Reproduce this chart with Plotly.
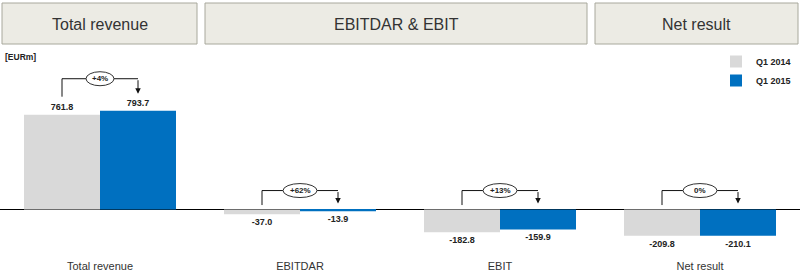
import plotly.graph_objects as go

categories = ["Total revenue", "EBITDAR", "EBIT", "Net result"]
q1_2014 = [761.8, -37.0, -182.8, -209.8]
q1_2015 = [793.7, -13.9, -159.9, -210.1]
changes = ["+4%", "+62%", "+13%", "0%"]
headers = ["Total revenue", "EBITDAR & EBIT", "Net result"]
header_spans = [(0, 0), (1, 2), (3, 3)]

FONT = "Arial, Liberation Sans, sans-serif"
GREY = "#d9d9d9"
BLUE = "#0070c0"
TXT = "#222222"

W, H = 800, 278
MB = 23
Y_MIN, Y_MAX = -365, 1683
plot_h = H - MB
upx = (Y_MAX - Y_MIN) / plot_h  # data units per pixel
x_idx = list(range(len(categories)))
OFF = 0.19
CAT_W = W / len(categories)


def py(px):
    """pixel y (from top) -> paper y"""
    return (plot_h - px) / plot_h


fig = go.Figure()
fig.add_trace(go.Bar(x=x_idx, y=q1_2014, name="<b>Q1 2014</b>", marker=dict(color=GREY, line=dict(width=0)),
                     text=[f"<b>{v:.1f}</b>" for v in q1_2014], textposition="outside", cliponaxis=False,
                     textfont=dict(family=FONT, size=9, color=TXT)))
fig.add_trace(go.Bar(x=x_idx, y=q1_2015, name="<b>Q1 2015</b>", marker=dict(color=BLUE, line=dict(width=0)),
                     text=[f"<b>{v:.1f}</b>" for v in q1_2015], textposition="outside", cliponaxis=False,
                     textfont=dict(family=FONT, size=9, color=TXT)))

shapes = []
annotations = []
for i, (a, b, ch) in enumerate(zip(q1_2014, q1_2015, changes)):
    top = max(0, a, b)
    pos = top > 0
    bracket_y = top + (32 if pos else 19) * upx
    left_bot = (max(a, 0) + 18 * upx) if pos else 4.5 * upx
    tip = (max(b, 0) + 17 * upx) if pos else 6 * upx
    xl, xr = i - OFF, i + OFF
    line = dict(color="#111111", width=1)
    shapes.append(dict(type="line", xref="x", yref="y", x0=xl, x1=xl, y0=left_bot, y1=bracket_y, line=line))
    shapes.append(dict(type="line", xref="x", yref="y", x0=xl, x1=xr, y0=bracket_y, y1=bracket_y, line=line))
    annotations.append(dict(x=xr, y=tip, ax=xr, ay=bracket_y, xref="x", yref="y", axref="x", ayref="y",
                            showarrow=True, arrowhead=2, arrowsize=1.1, arrowwidth=1, arrowcolor="#111111", text=""))
    ew = 28 if pos else 34
    shapes.append(dict(type="circle", xref="x", yref="y", xsizemode="pixel", ysizemode="pixel",
                       xanchor=i, yanchor=bracket_y, x0=-ew / 2, x1=ew / 2, y0=-7, y1=7,
                       fillcolor="white", line=dict(color="#333333", width=1)))
    annotations.append(dict(x=i, y=bracket_y, xref="x", yref="y", text=f"<b>{ch}</b>", showarrow=False,
                            font=dict(family=FONT, size=8, color=TXT)))

# header boxes
left_pads = [2, 5, -5]
right_pads = [3, 13, 2]
for (s, e), txt, lp, rp in zip(header_spans, headers, left_pads, right_pads):
    x0 = s * CAT_W + lp
    x1 = (e + 1) * CAT_W - rp
    shapes.append(dict(type="rect", xref="paper", yref="paper", x0=x0 / W, x1=x1 / W,
                       y0=py(44), y1=py(3), fillcolor="#ecebe4", line=dict(color="#a8a89c", width=1),
                       layer="below"))
    annotations.append(dict(x=(x0 + x1) / 2 / W, y=py(24), xref="paper", yref="paper", text=txt,
                            xanchor="center", yanchor="middle",
                            showarrow=False, font=dict(family=FONT, size=16, color="#333333")))

annotations.append(dict(x=3 / W, y=py(57), xref="paper", yref="paper", text="<b>[EURm]</b>",
                        showarrow=False, xanchor="left", yanchor="middle",
                        font=dict(family=FONT, size=8.5, color=TXT)))

fig.update_layout(
    width=W, height=H, margin=dict(l=0, r=0, t=0, b=MB),
    paper_bgcolor="white", plot_bgcolor="white",
    barmode="group", bargap=0.24, bargroupgap=0,
    shapes=shapes, annotations=annotations,
    showlegend=True,
    legend=dict(x=1 - 4 / W, xanchor="right", y=py(47), yanchor="top",
                font=dict(family=FONT, size=9, color=TXT), itemwidth=30, tracegroupgap=0,
                bgcolor="rgba(0,0,0,0)"),
    font=dict(family=FONT),
)
fig.update_xaxes(range=[-0.5, 3.5], tickmode="array", tickvals=x_idx, ticktext=categories,
                 showgrid=False, showline=False, ticks="", ticklabelstandoff=3,
                 tickfont=dict(family=FONT, size=11, color="#333333"))
fig.update_yaxes(range=[Y_MIN, Y_MAX], showgrid=False, showticklabels=False, zeroline=True,
                 zerolinecolor="#000000", zerolinewidth=1, showline=False)
fig.write_html("out.html")
